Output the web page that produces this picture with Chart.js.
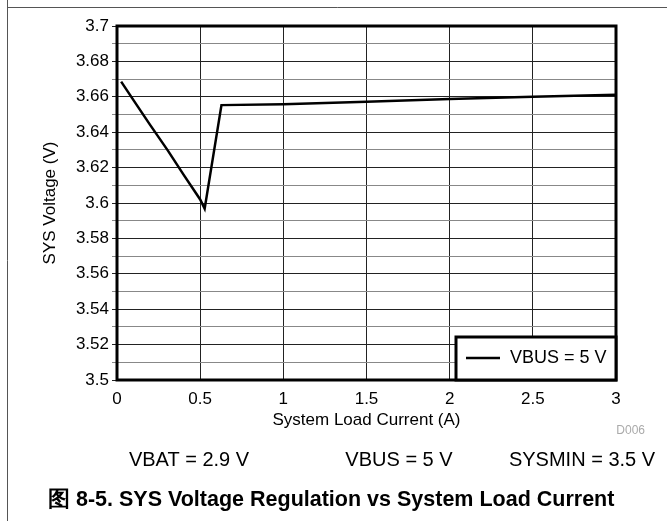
<!DOCTYPE html>
<html>
<head>
<meta charset="utf-8">
<script src="https://cdn.jsdelivr.net/npm/chart.js@4"></script>
<style>
  html, body { margin: 0; padding: 0; background: #fff; }
  #wrap { width: 667px; height: 521px; position: relative; }
</style>
</head>
<body>
<div id="wrap"><canvas id="sysChart" width="667" height="521"></canvas></div>
<script>
// load current (A) and SYS voltage (V)
var loadCurrent = [0.025, 0.1, 0.2, 0.306, 0.4, 0.5, 0.527, 0.628, 1.0, 1.5, 2.0, 2.5, 3.0];
var sysVoltage = [3.6686, 3.658, 3.644, 3.6296, 3.616, 3.602, 3.5968, 3.6553, 3.6558, 3.6572, 3.6588, 3.6600, 3.6612];
var seriesLabel = 'VBUS = 5 V';
var xTitle = 'System Load Current (A)';
var yTitle = 'SYS Voltage (V)';
var conditions = ['VBAT = 2.9 V', 'VBUS = 5 V', 'SYSMIN = 3.5 V'];
var conditionX = [189, 399, 582];
var caption = '图 8-5. SYS Voltage Regulation vs System Load Current';

var points = loadCurrent.map(function (x, i) { return { x: x, y: sysVoltage[i] }; });
var font = '"Liberation Sans", Arial, sans-serif';

var extras = {
  id: 'extras',
  afterDraw: function (chart) {
    var c = chart.ctx, a = chart.chartArea;
    c.save();
    // page frame
    c.strokeStyle = '#555';
    c.lineWidth = 1;
    c.beginPath();
    c.moveTo(7.5, 0); c.lineTo(7.5, 521);
    c.moveTo(7.5, 7.5); c.lineTo(667, 7.5);
    c.stroke();

    // plot border
    c.strokeStyle = '#000';
    c.lineWidth = 3;
    c.strokeRect(a.left, a.top, a.right - a.left, a.bottom - a.top);

    // legend box in lower right
    var lx = 456, ly = 337;
    c.fillStyle = '#fff';
    c.fillRect(lx, ly, a.right - lx, a.bottom - ly);
    c.strokeRect(lx, ly, a.right - lx, a.bottom - ly);
    c.lineWidth = 2.5;
    c.beginPath();
    c.moveTo(466, 358); c.lineTo(500, 358);
    c.stroke();
    c.fillStyle = '#000';
    c.font = '18px ' + font;
    c.textBaseline = 'middle';
    c.fillText(seriesLabel, 510, 358);

    // axis titles
    c.font = '17px ' + font;
    c.textAlign = 'center';
    c.fillText(xTitle, (a.left + a.right) / 2, 420);
    c.save();
    c.translate(50, (a.top + a.bottom) / 2);
    c.rotate(-Math.PI / 2);
    c.fillText(yTitle, 0, 0);
    c.restore();

    // figure id
    c.fillStyle = '#aaa';
    c.font = '12px ' + font;
    c.textAlign = 'right';
    c.fillText('D006', 645, 431);

    // test conditions
    c.fillStyle = '#000';
    c.font = '20px ' + font;
    c.textAlign = 'center';
    c.textBaseline = 'alphabetic';
    conditions.forEach(function (t, i) { c.fillText(t, conditionX[i], 466); });

    // caption
    c.font = 'bold 21.5px ' + font;
    c.textAlign = 'left';
    c.fillText(caption, 48, 506);
    c.restore();
  }
};

new Chart(document.getElementById('sysChart'), {
  type: 'line',
  data: {
    datasets: [{
      label: seriesLabel,
      data: points,
      borderColor: '#000',
      borderWidth: 2.5,
      pointRadius: 0,
      tension: 0,
      fill: false
    }]
  },
  options: {
    responsive: false,
    animation: false,
    layout: { padding: { left: 0, right: 51, top: 26, bottom: 0 } },
    plugins: { legend: { display: false }, tooltip: { enabled: false } },
    scales: {
      x: {
        type: 'linear',
        min: 0, max: 3,
        afterFit: function (s) { s.height = 141; },
        ticks: {
          stepSize: 0.5,
          color: '#000',
          font: { family: font, size: 17 },
          padding: 9,
          maxRotation: 0,
          callback: function (v) { return String(v); }
        },
        grid: { color: '#222', lineWidth: 1, drawTicks: false },
        border: { display: false }
      },
      y: {
        min: 3.5, max: 3.7,
        afterFit: function (s) { s.width = 117; },
        afterBuildTicks: function (s) {
          var t = [];
          for (var i = 0; i <= 20; i++) t.push({ value: +(3.5 + i * 0.01).toFixed(2) });
          s.ticks = t;
        },
        ticks: {
          autoSkip: false,
          color: '#000',
          font: { family: font, size: 17 },
          padding: 3,
          callback: function (v, i) { return i % 2 === 0 ? String(+v.toFixed(2)) : ''; }
        },
        grid: {
          color: function (ctx) { return ctx.index % 2 === 0 ? '#222' : '#888'; },
          lineWidth: 1,
          tickLength: 5
        },
        border: { display: false }
      }
    }
  },
  plugins: [extras]
});
</script>
</body>
</html>
